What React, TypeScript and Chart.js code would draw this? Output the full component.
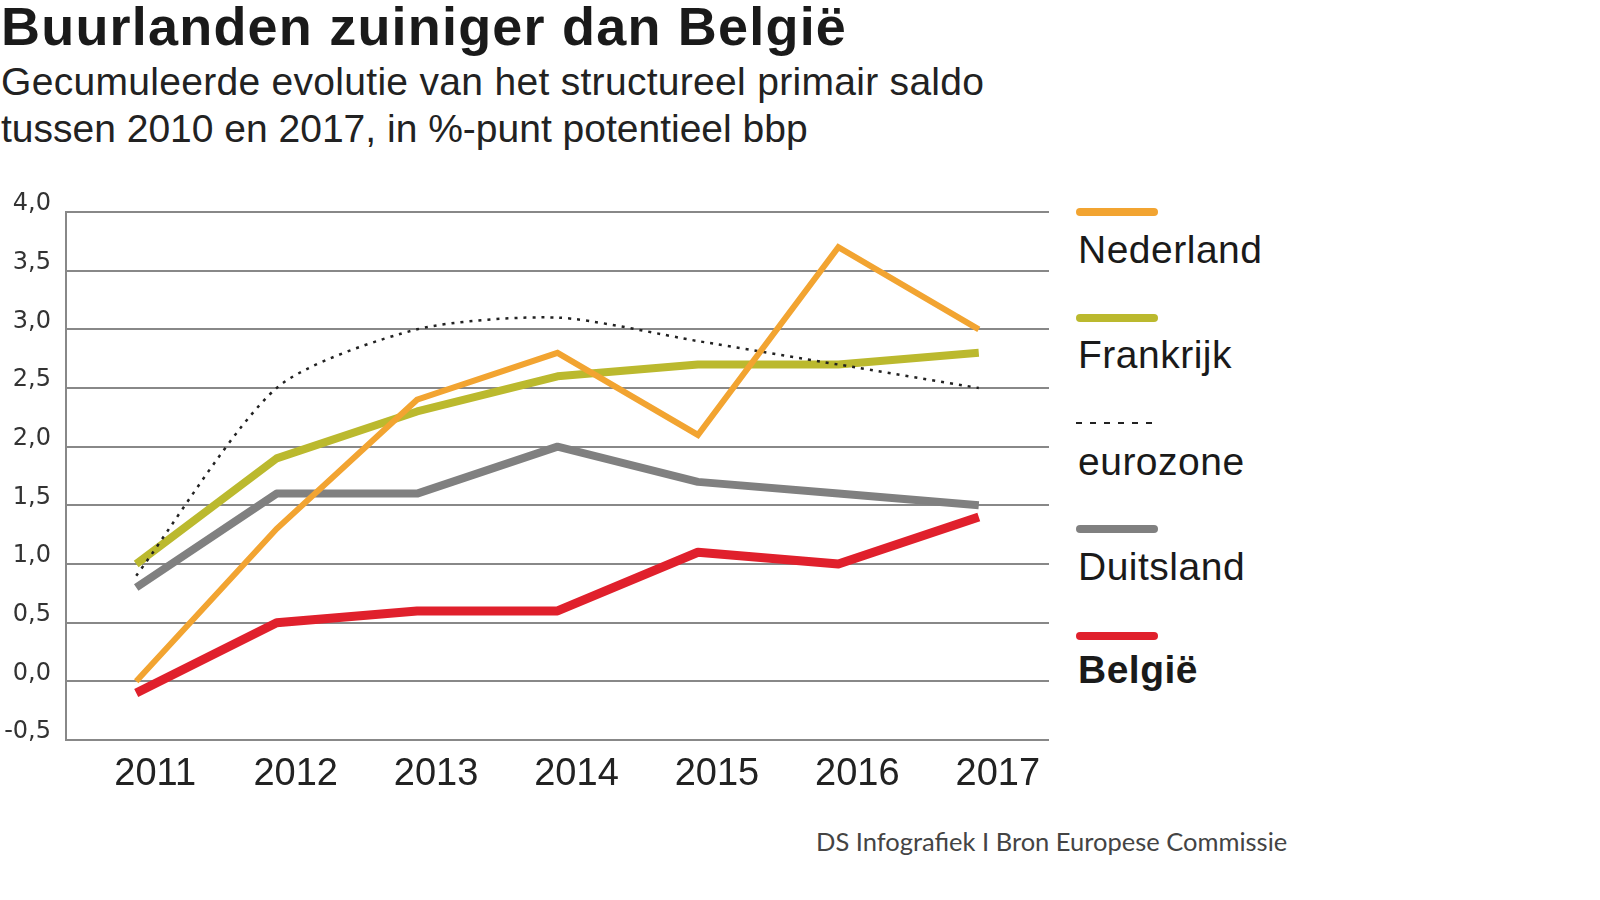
import React, { useEffect, useRef } from "react";
import { Chart, registerables } from "chart.js";

Chart.register(...registerables);

const years = ["2011", "2012", "2013", "2014", "2015", "2016", "2017"];
const nederland = [0.0, 1.3, 2.4, 2.8, 2.1, 3.7, 3.0];
const frankrijk = [1.0, 1.9, 2.3, 2.6, 2.7, 2.7, 2.8];
const eurozone = [0.9, 2.5, 3.0, 3.1, 2.9, 2.7, 2.5];
const duitsland = [0.8, 1.6, 1.6, 2.0, 1.7, 1.6, 1.5];
const belgie = [-0.1, 0.5, 0.6, 0.6, 1.1, 1.0, 1.4];
const yMin = -0.5;
const yMax = 4.0;
const yStep = 0.5;

const title = "Buurlanden zuiniger dan België";
const subtitle1 = "Gecumuleerde evolutie van het structureel primair saldo";
const subtitle2 = "tussen 2010 en 2017, in %-punt potentieel bbp";
const source = "DS Infografiek I Bron Europese Commissie";

const COLORS = {
  nederland: "#F2A431",
  frankrijk: "#BBB92E",
  eurozone: "#222222",
  duitsland: "#808080",
  belgie: "#E0202C",
};

const legendItems = [
  { label: "Nederland", color: COLORS.nederland, dotted: false, bold: false, lineY: 212, top: 230 },
  { label: "Frankrijk", color: COLORS.frankrijk, dotted: false, bold: false, lineY: 318, top: 335 },
  { label: "eurozone", color: COLORS.eurozone, dotted: true, bold: false, lineY: 423, top: 442 },
  { label: "Duitsland", color: COLORS.duitsland, dotted: false, bold: false, lineY: 529, top: 547 },
  { label: "België", color: COLORS.belgie, dotted: false, bold: true, lineY: 636, top: 650 },
];

export default function App() {
  const canvasRef = useRef<HTMLCanvasElement | null>(null);

  useEffect(() => {
    document.body.style.margin = "0";
    document.body.style.background = "#ffffff";
    const canvas = canvasRef.current;
    if (!canvas) return;
    const chart = new Chart(canvas, {
      type: "line",
      data: {
        labels: years,
        datasets: [
          {
            label: "Nederland",
            data: nederland,
            borderColor: COLORS.nederland,
            borderWidth: 6,
            pointRadius: 0,
            tension: 0,
            borderJoinStyle: "miter",
            borderCapStyle: "butt",
          },
          {
            label: "eurozone",
            data: eurozone,
            borderColor: COLORS.eurozone,
            borderWidth: 2.5,
            borderDash: [3, 6],
            pointRadius: 0,
            tension: 0.25,
          },
          {
            label: "België",
            data: belgie,
            borderColor: COLORS.belgie,
            borderWidth: 9,
            pointRadius: 0,
            tension: 0,
            borderJoinStyle: "round",
            borderCapStyle: "butt",
          },
          {
            label: "Frankrijk",
            data: frankrijk,
            borderColor: COLORS.frankrijk,
            borderWidth: 8,
            pointRadius: 0,
            tension: 0,
            borderJoinStyle: "round",
            borderCapStyle: "butt",
          },
          {
            label: "Duitsland",
            data: duitsland,
            borderColor: COLORS.duitsland,
            borderWidth: 8,
            pointRadius: 0,
            tension: 0,
            borderJoinStyle: "round",
            borderCapStyle: "butt",
          },
        ],
      },
      options: {
        animation: false,
        responsive: false,
        devicePixelRatio: 1,
        clip: false as any,
        layout: { padding: { top: 32, right: 21, left: 0, bottom: 0 } },
        plugins: {
          legend: { display: false },
          tooltip: { enabled: false },
          title: { display: false },
        },
        scales: {
          x: {
            type: "category",
            offset: true,
            grid: { display: false, drawTicks: false },
            border: { display: false },
            ticks: {
              color: "#222222",
              font: { family: "'Liberation Sans', Arial, sans-serif", size: 38 },
              padding: 12,
              labelOffset: 19,
              maxRotation: 0,
              autoSkip: false,
            },
            afterFit: (s: any) => {
              s.height = 60;
            },
          },
          y: {
            type: "linear",
            min: yMin,
            max: yMax,
            grid: { color: "#888888", lineWidth: 2, drawTicks: false },
            border: { display: true, color: "#888888", width: 2 },
            ticks: {
              stepSize: yStep,
              color: "#333333",
              font: { family: "'DejaVu Sans', sans-serif", size: 24 },
              padding: 15,
              labelOffset: -8,
              callback: (v: any) => Number(v).toFixed(1).replace(".", ","),
            },
            afterFit: (s: any) => {
              s.width = 66;
            },
          },
        },
      },
    });
    return () => chart.destroy();
  }, []);

  const sans = "'Liberation Sans', Arial, sans-serif";

  return (
    <div style={{ position: "relative", width: 1600, height: 900, background: "#fff", overflow: "hidden" }}>
      <div
        style={{
          position: "absolute",
          left: 1,
          top: -1,
          fontFamily: sans,
          fontWeight: 700,
          fontSize: 54,
          lineHeight: "54px",
          letterSpacing: "1.2px",
          color: "#1a1a1a",
          whiteSpace: "nowrap",
        }}
      >
        {title}
      </div>
      <div
        style={{
          position: "absolute",
          left: 1,
          top: 58,
          fontFamily: sans,
          fontSize: 39,
          lineHeight: "47px",
          letterSpacing: "0.3px",
          color: "#222",
          whiteSpace: "nowrap",
        }}
      >
        <div>{subtitle1}</div>
        <div style={{ letterSpacing: "0px" }}>{subtitle2}</div>
      </div>
      <canvas
        ref={canvasRef}
        width={1070}
        height={620}
        style={{ position: "absolute", left: 0, top: 180, width: 1070, height: 620 }}
      />
      {legendItems.map((it) => (
        <React.Fragment key={it.label}>
          <div
            style={{
              position: "absolute",
              left: 1076,
              top: it.lineY - (it.dotted ? 1 : 4),
              width: 82,
              height: it.dotted ? 2 : 8,
              borderRadius: it.dotted ? 0 : 4,
              background: it.dotted
                ? `repeating-linear-gradient(to right, ${it.color} 0px, ${it.color} 6px, transparent 6px, transparent 14px)`
                : it.color,
            }}
          />
          <div
            style={{
              position: "absolute",
              left: 1078,
              top: it.top,
              fontFamily: sans,
              fontSize: 39,
              lineHeight: "39px",
              letterSpacing: "0.5px",
              fontWeight: it.bold ? 700 : 400,
              color: "#1a1a1a",
              whiteSpace: "nowrap",
            }}
          >
            {it.label}
          </div>
        </React.Fragment>
      ))}
      <div
        style={{
          position: "absolute",
          left: 816,
          top: 826,
          fontFamily: "Lato, sans-serif",
          fontSize: 25.5,
          lineHeight: "30px",
          color: "#444",
          whiteSpace: "nowrap",
        }}
      >
        {source}
      </div>
    </div>
  );
}
